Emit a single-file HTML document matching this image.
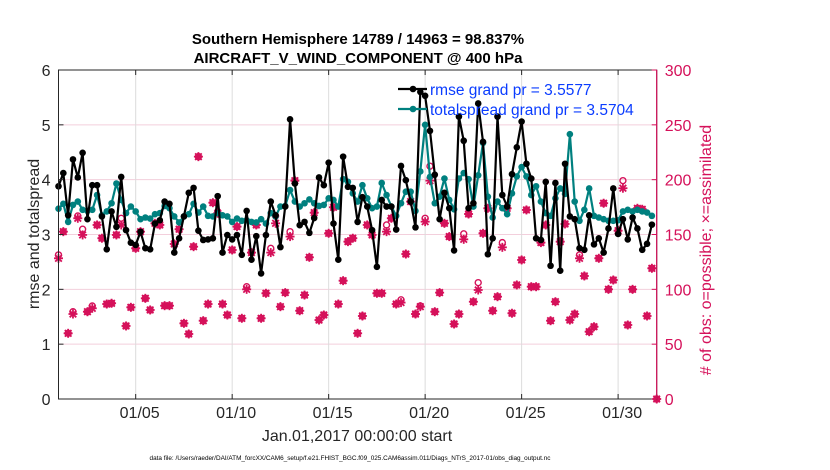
<!DOCTYPE html>
<html><head><meta charset="utf-8"><style>
body{margin:0;background:#fff;}
svg{display:block;font-family:"Liberation Sans",sans-serif;}
</style></head><body>
<svg id="chart" width="830" height="470" viewBox="0 0 830 470" xmlns="http://www.w3.org/2000/svg">
<rect width="830" height="470" fill="#fff"/>
<g id="grid"></g>
<g id="marks"></g>
<g id="axes"></g>
</svg>
<script>
const xTickLabels = ["01/05","01/10","01/15","01/20","01/25","01/30"];
const xTickDays = [4,9,14,19,24,29];
const leftTicks = [0,1,2,3,4,5,6];
const rightTicks = [0,50,100,150,200,250,300];
const rmse = [3.88,4.12,3.35,4.37,4.04,4.49,3.28,3.90,3.90,3.33,2.73,3.42,3.14,4.05,3.08,2.85,2.81,3.05,2.75,2.73,3.20,3.26,3.60,3.56,2.67,2.93,3.33,3.76,3.85,3.07,2.90,2.91,
2.93,3.70,2.67,2.99,2.91,2.99,2.63,3.43,2.54,2.97,2.29,2.99,3.60,3.35,2.77,3.51,5.10,3.93,3.17,3.23,3.03,3.30,4.04,3.90,4.31,3.20,2.54,4.42,3.87,3.85,3.23,3.68,3.51,
3.08,2.41,3.63,3.51,3.51,3.09,4.25,3.99,3.60,3.13,5.60,5.53,4.89,4.09,3.28,3.76,3.48,2.71,5.15,4.71,3.48,3.57,5.39,4.69,2.64,2.93,5.15,3.72,3.51,4.10,
4.59,5.06,4.29,4.02,2.93,2.90,3.96,2.43,3.94,2.34,4.29,3.33,3.28,2.75,2.72,3.35,2.82,2.93,2.67,3.11,3.84,3.01,3.28,2.91,3.31,3.11,2.72,2.83,3.18];
const spread = [3.47,3.56,3.23,3.54,3.60,3.45,3.43,3.45,3.72,3.35,3.42,3.57,3.93,3.63,3.39,3.51,3.42,3.28,3.31,3.29,3.37,3.39,3.52,3.48,3.33,3.22,3.33,3.37,3.56,3.40,3.51,3.34,
3.33,3.39,3.35,3.33,3.23,3.29,3.25,3.26,3.23,3.22,3.28,3.20,3.39,3.33,3.51,3.52,3.81,3.60,3.51,3.57,3.64,3.57,3.52,3.54,3.66,3.63,3.51,4.01,3.96,3.75,3.60,3.90,3.66,
3.48,3.51,3.94,3.72,3.51,3.34,3.57,3.78,3.78,3.43,4.15,5.00,4.05,3.57,3.69,4.02,3.63,3.46,4.02,4.12,4.01,3.51,4.08,4.67,3.69,3.31,3.60,3.48,3.37,3.75,
4.06,4.23,4.06,3.72,3.88,3.60,3.39,3.34,3.66,3.84,3.74,4.83,3.60,3.25,3.45,3.84,3.34,3.31,3.28,3.25,3.25,3.26,3.42,3.45,3.42,3.45,3.42,3.40,3.34];
const assimilated = [128.3,152.6,59.9,77.5,164.8,149.6,79.6,82.7,158.7,146.6,86.6,87.3,149.6,158.7,66.6,83.6,137.4,152.6,91.8,81.2,160.2,158.7,85.1,85.1,141.4,154.8,69.0,59.3,138.9,221.0,71.4,86.6,179.0,
169.4,86.6,76.6,135.9,157.2,73.6,100.0,133.5,158.7,73.6,96.4,133.5,160.2,84.2,97.0,148.1,199.1,80.5,94.8,129.2,169.9,72.0,76.6,151.1,174.8,86.6,107.9,143.5,146.6,59.9,75.7,158.7,
149.6,96.4,96.4,152.6,164.8,86.6,87.9,132.2,180.0,77.5,84.2,161.7,199.1,79.6,97.0,160.2,148.1,68.4,77.5,145.6,168.7,88.7,99.4,151.1,173.9,80.5,93.3,138.3,173.9,78.2,
104.0,126.8,172.4,102.4,102.4,142.6,158.7,71.4,88.7,143.5,159.6,72.0,77.5,128.3,112.2,61.4,65.9,128.3,178.5,100.0,108.5,153.5,192.2,67.5,100.0,173.9,173.0,75.7,119.2,0];
const possible = [131.4,152.6,59.9,79.6,166.9,154.8,79.6,84.8,158.7,146.6,86.6,87.3,149.6,164.8,66.6,83.6,137.4,152.6,91.8,81.2,160.2,158.7,85.1,85.1,141.4,154.8,69.0,59.3,138.9,221.0,71.4,86.6,179.0,
170.9,86.6,76.6,135.9,157.2,73.6,102.4,133.5,158.7,73.6,96.4,137.4,166.9,84.2,97.0,152.6,199.1,80.5,94.8,129.2,169.9,72.0,76.6,151.1,174.8,86.6,107.9,143.5,146.6,59.9,75.7,158.7,
149.6,96.4,96.4,158.7,164.8,86.6,90.4,132.2,180.0,77.5,84.8,164.8,212.3,79.6,97.0,160.2,148.1,68.4,77.5,150.6,168.7,88.7,106.1,151.1,173.9,80.5,93.3,142.6,173.9,78.2,
104.0,126.8,172.4,102.4,102.4,142.6,158.7,71.4,88.7,143.5,159.6,72.0,77.5,131.4,112.2,61.4,65.9,128.3,178.5,100.0,108.5,153.5,199.1,67.5,100.0,173.9,173.0,75.7,119.2,0];

const X0=58.5, X1=656.7, Y0=399, Y1=70;
const xS = d => X0 + (X1-X0)*d/31;
const yL = v => Y0 - (Y0-Y1)*v/6;
const yR = v => Y0 - (Y0-Y1)*v/300;
const NS="http://www.w3.org/2000/svg";
function mk(parent,tag,attrs,text){const e=document.createElementNS(NS,tag);for(const k in attrs)e.setAttribute(k,attrs[k]);if(text!==undefined)e.textContent=text;parent.appendChild(e);return e;}
const grid=document.getElementById('grid'), marks=document.getElementById('marks'), axes=document.getElementById('axes');
const MAG="#d5115a", TEAL="#00807f";

rightTicks.forEach(t=>{ if(t===0||t===300) return;
  const l=mk(grid,'line',{x1:X0,x2:X1,y1:yR(t),y2:yR(t),stroke:"#f3cfdc","stroke-width":1});
  
  
});
xTickDays.forEach(d=>{
  const l=mk(grid,'line',{x1:xS(d),x2:xS(d),y1:Y1,y2:Y0,stroke:"#dcdcdc","stroke-width":1});
  
  
});

const day = i => i*0.25;
assimilated.forEach((v,i)=>{
  const x=xS(day(i)), y=yR(v);
  const g=mk(marks,'g',{stroke:MAG,"stroke-width":1.8});
  
  
  mk(g,'line',{x1:x-4.5,x2:x+4.5,y1:y,y2:y});
  mk(g,'line',{x1:x,x2:x,y1:y-4.5,y2:y+4.5});
  mk(g,'line',{x1:x-3.3,x2:x+3.3,y1:y-3.3,y2:y+3.3});
  mk(g,'line',{x1:x-3.3,x2:x+3.3,y1:y+3.3,y2:y-3.3});
});
possible.forEach((v,i)=>{
  const c=mk(marks,'circle',{cx:xS(day(i)),cy:yR(v),r:3,fill:"none",stroke:MAG,"stroke-width":1.4});
  
  
});

function series(arr,color,name){
  const pts=arr.map((v,i)=>xS(day(i)).toFixed(1)+','+yL(v).toFixed(1)).join(' ');
  const pl=mk(marks,'polyline',{points:pts,fill:"none",stroke:color,"stroke-width":2.2,"stroke-linejoin":"round"});
  
  
  arr.forEach((v,i)=>{
    const c=mk(marks,'circle',{cx:xS(day(i)),cy:yL(v),r:3.3,fill:color});
    
    
  });
}
series(spread,TEAL,'totalspread');
series(rmse,"#000",'rmse');

const box=mk(axes,'rect',{x:X0,y:Y1,width:X1-X0,height:Y0-Y1,fill:"none",stroke:"#262626","stroke-width":1});


mk(axes,'line',{x1:X1,x2:X1,y1:Y1,y2:Y0,stroke:MAG,"stroke-width":1.2});
leftTicks.forEach(t=>{
  mk(axes,'line',{x1:X0,x2:X0+5,y1:yL(t),y2:yL(t),stroke:"#262626"});
  const tx=mk(axes,'text',{x:X0-8,y:yL(t)+6,"text-anchor":"end","font-size":16,fill:"#262626"},String(t));
  
  
});
rightTicks.forEach(t=>{
  mk(axes,'line',{x1:X1-5,x2:X1,y1:yR(t),y2:yR(t),stroke:MAG});
  const tx=mk(axes,'text',{x:X1+8,y:yR(t)+6,"font-size":16,fill:MAG},String(t));
  
  
});
xTickDays.forEach((d,k)=>{
  mk(axes,'line',{x1:xS(d),x2:xS(d),y1:Y0,y2:Y0-5,stroke:"#262626"});
  mk(axes,'line',{x1:xS(d),x2:xS(d),y1:Y1,y2:Y1+5,stroke:"#262626"});
  const tx=mk(axes,'text',{x:xS(d)+4,y:418,"text-anchor":"middle","font-size":16,fill:"#262626"},xTickLabels[k]);
  
  
});
</script>
<svg style="position:absolute;left:0;top:0" width="830" height="470">
<text x="358" y="44" text-anchor="middle" font-size="15" font-weight="bold" fill="#000">Southern Hemisphere 14789 / 14963 = 98.837%</text>
<text x="358" y="63" text-anchor="middle" font-size="15" font-weight="bold" fill="#000">AIRCRAFT_V_WIND_COMPONENT @ 400 hPa</text>
<text transform="translate(39,234) rotate(-90)" text-anchor="middle" font-size="16" fill="#262626">rmse and totalspread</text>
<text transform="translate(711,250) rotate(-90)" text-anchor="middle" font-size="16" fill="#d5115a"># of obs: o=possible; ×=assimilated</text>
<text x="357" y="441" text-anchor="middle" font-size="16" fill="#262626">Jan.01,2017 00:00:00 start</text>
<text x="350" y="460" text-anchor="middle" font-size="6.4" fill="#000">data file: /Users/raeder/DAI/ATM_forcXX/CAM6_setup/f.e21.FHIST_BGC.f09_025.CAM6assim.011/Diags_NTrS_2017-01/obs_diag_output.nc</text>
<g>
<line x1="398" y1="89" x2="427" y2="89" stroke="#000" stroke-width="2.2"/>
<circle cx="413" cy="89" r="3.3" fill="#000"/>
<text x="430" y="95" font-size="15.5" fill="#0a3cff">rmse grand pr = 3.5577</text>
<line x1="398" y1="109" x2="427" y2="109" stroke="#00807f" stroke-width="2.2"/>
<circle cx="413" cy="109" r="3.3" fill="#00807f"/>
<text x="430" y="115" font-size="15.5" fill="#0a3cff">totalspread grand pr = 3.5704</text>
</g>
</svg>
</body></html>
